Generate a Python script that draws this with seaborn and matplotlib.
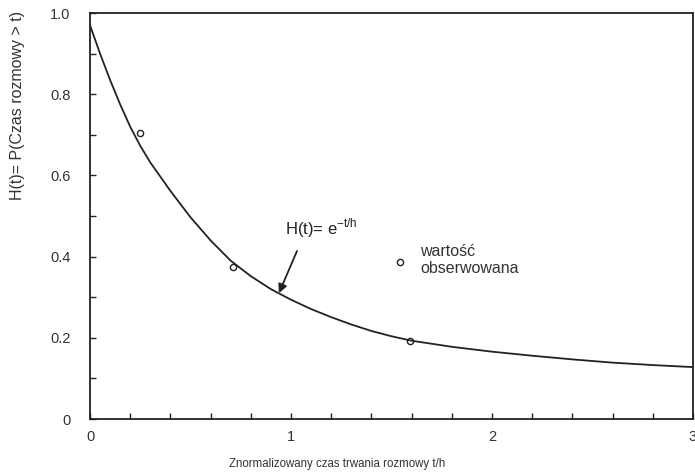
import matplotlib
matplotlib.use("Agg")
import pandas as pd
import matplotlib.pyplot as plt
import seaborn as sns
from matplotlib.ticker import MultipleLocator

# Krzywa H(t)
t_krzywa = [0, 0.05, 0.1, 0.15, 0.2, 0.25, 0.3, 0.4, 0.5, 0.6, 0.7, 0.8, 0.9,
            1.0, 1.1, 1.2, 1.3, 1.4, 1.5, 1.6, 1.8, 2.0, 2.2, 2.4, 2.6, 2.8, 3.0]
h_krzywa = [0.97, 0.9, 0.835, 0.775, 0.72, 0.673, 0.632, 0.562, 0.497, 0.44,
            0.39, 0.352, 0.32, 0.294, 0.271, 0.251, 0.233, 0.217, 0.204, 0.193,
            0.178, 0.166, 0.156, 0.147, 0.139, 0.133, 0.128]

# Wartości obserwowane
t_obs = [0.25, 0.71, 1.59]
h_obs = [0.705, 0.375, 0.192]

krzywa = pd.DataFrame({'t': t_krzywa, 'H': h_krzywa})
obs = pd.DataFrame({'t': t_obs, 'H': h_obs})

sns.set_style("ticks")
plt.rcParams['font.family'] = ['Liberation Sans', 'DejaVu Sans']

fig = plt.figure(figsize=(6.95, 4.73), dpi=100)
ax = fig.add_axes([0.1295, 0.114, 0.8675, 0.8585])

sns.lineplot(data=krzywa, x='t', y='H', color='#222222', linewidth=1.3, ax=ax)
sns.scatterplot(data=obs, x='t', y='H', marker='o', s=20, facecolor='white',
                edgecolor='#222222', linewidth=1.0, ax=ax,
                label='wartość\nobserwowana')

ax.set_xlim(0, 3)
ax.set_ylim(0, 1.0)
ax.xaxis.set_major_locator(MultipleLocator(1))
ax.xaxis.set_minor_locator(MultipleLocator(0.2))
ax.yaxis.set_major_locator(MultipleLocator(0.2))
ax.yaxis.set_minor_locator(MultipleLocator(0.1))
ax.xaxis.set_major_formatter(plt.FuncFormatter(lambda v, p: f'{v:.0f}'))
ax.yaxis.set_major_formatter(plt.FuncFormatter(lambda v, p: '0' if v == 0 else f'{v:.1f}'))
ax.tick_params(which='both', direction='in', length=4, width=1, colors='#222222',
               labelsize=10.5, labelcolor='#333333')
ax.tick_params(axis='y', pad=14)
ax.tick_params(axis='x', pad=8)
for s in ax.spines.values():
    s.set_linewidth(1.3)
    s.set_color('#222222')

ax.set_xlabel('Znormalizowany czas trwania rozmowy t/h', fontsize=8.3, color='#333333')
ax.xaxis.set_label_coords(0.41, -0.095)
ax.set_ylabel('H(t)= P(Czas rozmowy > t)', fontsize=11.5, color='#333333')
ax.yaxis.set_label_coords(-0.108, 0.773)

# opis krzywej ze strzałką
ax.text(0.97, 0.47, r'H(t)= e$^{\mathregular{-t/h}}$', fontsize=12,
        color='#222222', va='center', ha='left')
ax.annotate('', xy=(0.94, 0.31), xytext=(1.03, 0.414),
            arrowprops=dict(arrowstyle='-|>', color='#222222', lw=1.3,
                            shrinkA=0, shrinkB=0, mutation_scale=13))

leg = ax.legend(loc='center left', bbox_to_anchor=(0.491, 0.392), frameon=False,
                fontsize=11.5, handletextpad=0.75, handlelength=1.0,
                borderaxespad=0)
for txt in leg.get_texts():
    txt.set_color('#333333')

fig.savefig('out.png', dpi=100, facecolor='white')
